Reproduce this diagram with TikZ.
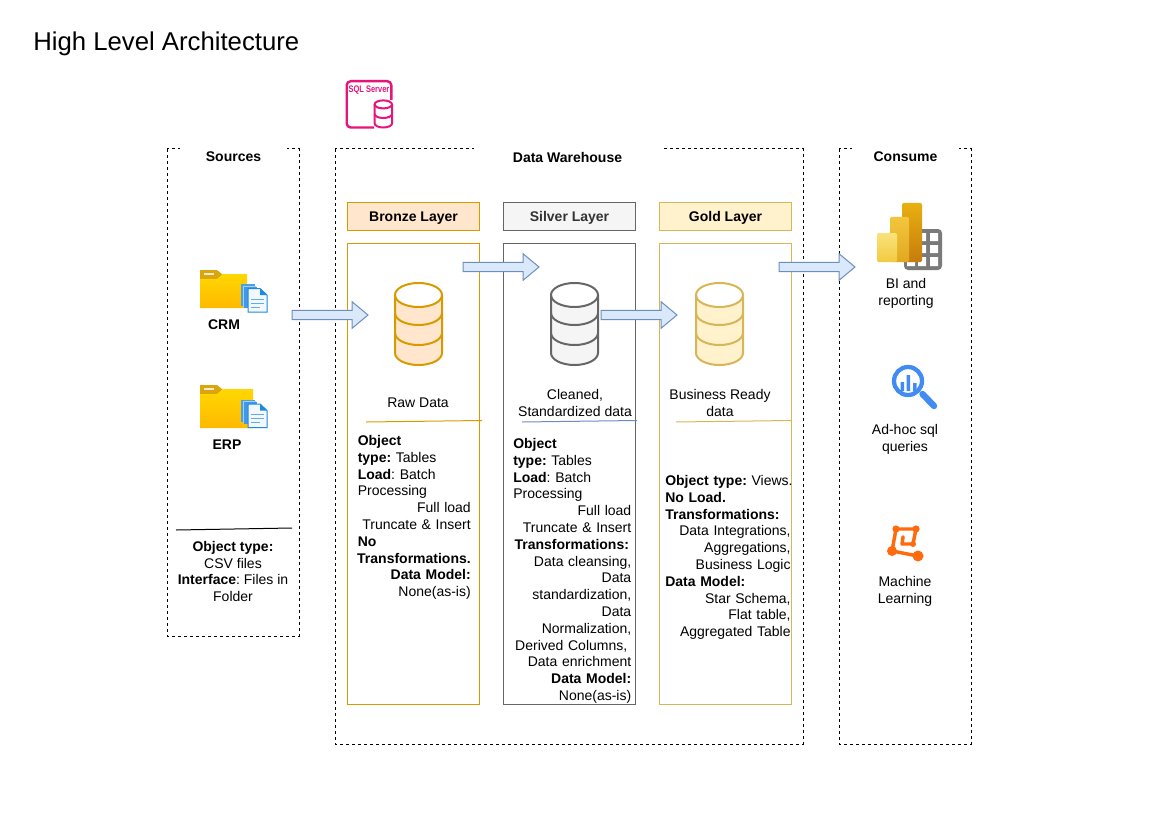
\documentclass[tikz,border=0pt]{standalone}
\usepackage{amsmath}
\usepackage{amssymb}
\usepackage{fontspec}
\setmainfont{Liberation Sans}
\frenchspacing
\usepackage{tikz}
\usetikzlibrary{calc}

\definecolor{bronzeFill}{RGB}{255,230,204}
\definecolor{bronzeLine}{RGB}{215,155,0}
\definecolor{silverFill}{RGB}{245,245,245}
\definecolor{silverLine}{RGB}{102,102,102}
\definecolor{goldFill}{RGB}{255,242,204}
\definecolor{goldLine}{RGB}{214,182,86}
\definecolor{flowFill}{RGB}{218,232,252}
\definecolor{flowLine}{RGB}{108,142,191}
\definecolor{sqlPink}{RGB}{230,21,123}
\definecolor{docBlue}{RGB}{30,136,229}
\definecolor{lensBlue}{RGB}{66,139,244}
\definecolor{mlOrange}{RGB}{255,106,13}

\tikzset{
  every node/.style={font=\fontsize{10.5pt}{12.6pt}\selectfont,inner sep=0.75pt},
  dashbox/.style={draw=black,line width=0.75pt,dash pattern=on 2.25pt off 2.25pt},
  grouptitle/.style={fill=white,minimum height=22.5pt,font=\fontsize{10.5pt}{12.6pt}\selectfont\bfseries},
  layerhead/.style={draw,line width=0.75pt,minimum width=99pt,minimum height=20.25pt,text height=7.6pt,text depth=0pt,font=\fontsize{10.5pt}{12.6pt}\selectfont\bfseries},
  layerbox/.style={line width=0.75pt},
  flowarrow/.style={draw=flowLine,fill=flowFill,line width=0.75pt,line join=miter},
  notes/.style={anchor=north west},
  caption/.style={align=center},
}

% block arrow between two named coordinates
\newcommand{\flowblock}[2]{
\draw [flowarrow] let \p1=(#1), \p2=(#2) in
  (\x1,\y1+3.5pt) -- (\x2-12pt,\y1+3.5pt) -- (\x2-12pt,\y1+10pt) -- (\x2,\y1)
  -- (\x2-12pt,\y1-10pt) -- (\x2-12pt,\y1-3.5pt) -- (\x1,\y1-3.5pt) -- cycle ;
}
% database stack, centre x / fill / line
\newcommand{\dbstack}[3]{
\begin{scope}[shift={(#1,283)},line width=1.5pt,draw=#3]
\fill [#2] (-23.5,12) -- (-23.5,70) arc [start angle=180,end angle=0,x radius=23.5,y radius=12] -- (23.5,12) arc [start angle=0,end angle=180,x radius=23.5,y radius=12] -- cycle ;
\draw (-23.5,12) -- (-23.5,70) arc [start angle=180,end angle=0,x radius=23.5,y radius=12] -- (23.5,12) ;
\draw (0,12) ellipse [x radius=23.5,y radius=12] ;
\draw (-23.5,30) arc [start angle=180,end angle=0,x radius=23.5,y radius=12] ;
\draw (-23.5,50) arc [start angle=180,end angle=0,x radius=23.5,y radius=12] ;
\end{scope}
}
% folder, left / top / width / height
\newcommand{\foldericon}[4]{
\begin{scope}[shift={(#1,#2)}]
\fill [rounded corners=0.5pt,fill={rgb,255:red,219;green,165;blue,14}] (0,0) -- (17,0) -- (23,5) -- (23,12) -- (0,12) -- cycle ;
\fill [white,opacity=0.8] (4,2.5) rectangle (14,4.5) ;
\path [top color={rgb,255:red,255;green,215;blue,0},bottom color={rgb,255:red,255;green,185;blue,0}] (0,9) -- (17,9) -- (23,4) -- (#3,4) -- (#3,#4) -- (0,#4) -- cycle ;
\end{scope}
}
% sheets in front of a folder, left / top
\newcommand{\docstack}[2]{
\begin{scope}[shift={(#1,#2)}]
\fill [docBlue!80!white] (0,0) rectangle (14,22) ;
\fill [white!60!docBlue] (1.5,1.5) rectangle (15,23) ;
\fill [docBlue!85!white] (2.5,2.5) rectangle (15.5,24) ;
\draw [docBlue,line width=0.75pt,fill=docBlue!6!white] (7,4.5) -- (19,4.5) -- (26,11) -- (26,28) -- (7,28) -- cycle ;
\fill [docBlue] (19,4.5) -- (26,11) -- (19,11) -- cycle ;
\draw [docBlue!70!white,line width=0.75pt] (10,15) -- (23,15) (10,19) -- (23,19) (10,23) -- (19,23) ;
\end{scope}
}

\begin{document}
\begin{tikzpicture}[x=0.75pt,y=0.75pt,yscale=-1,xscale=1]
\useasboundingbox (0,0) rectangle (1169,827);

% Title
\node (title) [anchor=west,font=\fontsize{19.3pt}{24pt}\selectfont] at (32,44) {High Level Architecture};

% Group boxes
\draw [dashbox] (167,149) rectangle (299,636);
\draw [dashbox] (335,149) rectangle (803,744);
\draw [dashbox] (839,149) rectangle (971,744);
\node (sources) [grouptitle,minimum width=80pt] at (233.5,157) {Sources};
\node (warehouse) [grouptitle,minimum width=141pt] at (567.5,157) {Data Warehouse};
\node (consume) [grouptitle,minimum width=80pt] at (905.5,157) {Consume};

% SQL Server icon
\draw [sqlPink,line width=1.8pt,rounded corners=3pt] (391.3,100) -- (391.3,81.2) -- (346.7,81.2) -- (346.7,127.5) -- (374,127.5);
\node (sqlserver) [text=sqlPink,xscale=0.78,font=\fontsize{7.2pt}{8pt}\selectfont\bfseries] at (369,90.5) {SQL Server};
\begin{scope}[shift={(383.3,100)},sqlPink,line width=1.5pt]
\fill [white] (-8.7,4.4) rectangle (8.7,25);
\draw (0,4.4) ellipse [x radius=8.7,y radius=4];
\draw (-8.7,4.4) -- (-8.7,23.5) arc [start angle=180,end angle=0,x radius=8.7,y radius=4] -- (8.7,4.4);
\draw (-8.7,14) arc [start angle=180,end angle=0,x radius=8.7,y radius=4];
\end{scope}

% Layers
\node (bronzeHead) [layerhead,draw=bronzeLine,fill=bronzeFill] at (413.5,216.5) {Bronze Layer};
\node (silverHead) [layerhead,draw=silverLine,fill=silverFill,text={rgb,255:red,51;green,51;blue,51}] at (569.5,216.5) {Silver Layer};
\node (goldHead) [layerhead,draw=goldLine,fill=goldFill] at (725.5,216.5) {Gold Layer};
\draw [layerbox,draw=bronzeLine] (347.5,243) rectangle (479.5,704);
\draw [layerbox,draw=silverLine] (503.5,243) rectangle (635.5,704);
\draw [layerbox,draw=goldLine] (659.5,243) rectangle (791.5,704);

% Databases
\dbstack{418.5}{bronzeFill}{bronzeLine}
\dbstack{574.5}{silverFill}{silverLine}
\dbstack{719.5}{goldFill}{goldLine}

% Source icons
\foldericon{200}{270}{47}{38}
\docstack{241}{284}
\foldericon{200}{385}{53}{43}
\docstack{241}{399.5}
\node (crm) [font=\fontsize{10.5pt}{12.6pt}\selectfont\bfseries] at (224,325) {CRM};
\node (erp) [font=\fontsize{10.5pt}{12.6pt}\selectfont\bfseries] at (227,445) {ERP};

% Rules under captions
\draw [black,line width=0.75pt] (176,530) -- (292,528);
\draw [bronzeLine,line width=0.75pt] (366,422) -- (482,420.5);
\draw [flowLine,line width=0.75pt] (522,422) -- (637,420.5);
\draw [goldLine,line width=0.75pt] (676,422) -- (791,420.5);

% Text Node
\node (srcNotes) [caption] at (233,571.5) {\textbf{Object type:}\\CSV files\\\textbf{Interface}: Files in\\Folder};
% Text Node
\node (rawData) [caption] at (418,403) {Raw Data};
% Text Node
\node (cleaned) [caption] at (575,403) {Cleaned,\\Standardized data};
% Text Node
\node (ready) [caption] at (720,403) {Business Ready\\data};
% Text Node
\node (bronzeNotes) [notes,text width=84.75pt] at (356.5,434) {\textbf{Object}\\\textbf{type:} Tables\\\textbf{Load}: Batch\\Processing\\\hfill Full load\\\hfill Truncate \& Insert\\\textbf{No}\\\hfill\makebox[0pt][r]{\textbf{Transformations.}}\\\hfill\textbf{Data Model:}\\\hfill None(as-is)};
% Text Node
\node (silverNotes) [notes,text width=88.5pt] at (512,437) {\textbf{Object}\\\textbf{type:} Tables\\\textbf{Load}: Batch\\Processing\\\hfill Full load\\\hfill Truncate \& Insert\\\hspace*{1pt}\textbf{Transformations:}\\\hfill Data cleansing,\hspace*{3pt}\\\hfill Data\\\hfill standardization,\\\hfill Data\\\hfill Normalization,\\\hfill\makebox[0pt][r]{Derived Columns,\hspace*{3pt}}\\\hfill Data enrichment\\\hfill\textbf{Data Model:}\\\hfill None(as-is)};
% Text Node
\node (goldNotes) [notes,text width=94pt] at (664,474) {\makebox[0pt][l]{\textbf{Object type:} Views.}\\\textbf{No Load.}\\\textbf{Transformations:}\\\hfill Data Integrations,\hspace*{3pt}\\\hfill Aggregations,\hspace*{3pt}\\\hfill Business Logic\\\textbf{Data Model:}\\\hfill Star Schema,\\\hfill Flat table,\\\hfill Aggregated Table};

% BI icon
\fill [rounded corners=3pt,fill={rgb,255:red,122;green,122;blue,122}] (904,229) rectangle (942,270);
\fill [white] (918,233) rectangle (926,241) (930,233) rectangle (938,241) (918,245) rectangle (926,253) (930,245) rectangle (938,253) (907,257) rectangle (915,266) (918,257) rectangle (926,266) (930,257) rectangle (938,266);
\path [rounded corners=1pt,top color={rgb,255:red,232;green,176;blue,16},bottom color={rgb,255:red,198;green,124;blue,12}] (902,203) rectangle (922,262);
\path [rounded corners=1pt,top color={rgb,255:red,243;green,198;blue,62},bottom color={rgb,255:red,224;green,168;blue,30}] (890,217) rectangle (909,262);
\path [rounded corners=1pt,top color={rgb,255:red,249;green,227;blue,124},bottom color={rgb,255:red,242;green,202;blue,64}] (877,233) rectangle (897,262);
\node (bi) [caption] at (906,293.5) {BI and\\reporting};

% Lens icon
\draw [lensBlue,line width=3.2pt] (908,381) circle [radius=14];
\fill [lensBlue] (900.5,382) rectangle (904,391) (906.5,375) rectangle (910,391) (913,383) rectangle (916.5,391);
\draw [lensBlue,line width=4.8pt,line cap=round] (922.5,394) -- (934,406);
\node (adhoc) [caption] at (905,439.5) {Ad-hoc sql\\queries};

% ML icon
\draw [mlOrange,line width=2.6pt,line join=round] (896,529) -- (916,529) -- (913,544) -- (902,544) -- (903,537) (896,529) -- (892,551) -- (918,556);
\fill [mlOrange] (896,529) circle [radius=3.6] (916,529) circle [radius=3.6] (892,551) circle [radius=5] (918,556) circle [radius=5.5] (913,544) circle [radius=3] (903,537) circle [radius=1.8];
\node (ml) [caption] at (905,591.5) {Machine\\Learning};

% Flows
\coordinate (crmOut) at (292,315);
\coordinate (bronzeIn) at (368,315);
\coordinate (bronzeOut) at (463,267);
\coordinate (silverIn) at (539,267);
\coordinate (silverOut) at (601,315);
\coordinate (goldIn) at (677,315);
\coordinate (goldOut) at (779,267);
\coordinate (consumeIn) at (855,267);
\flowblock{crmOut}{bronzeIn}
\flowblock{bronzeOut}{silverIn}
\flowblock{silverOut}{goldIn}
\flowblock{goldOut}{consumeIn}

\end{tikzpicture}
\end{document}
